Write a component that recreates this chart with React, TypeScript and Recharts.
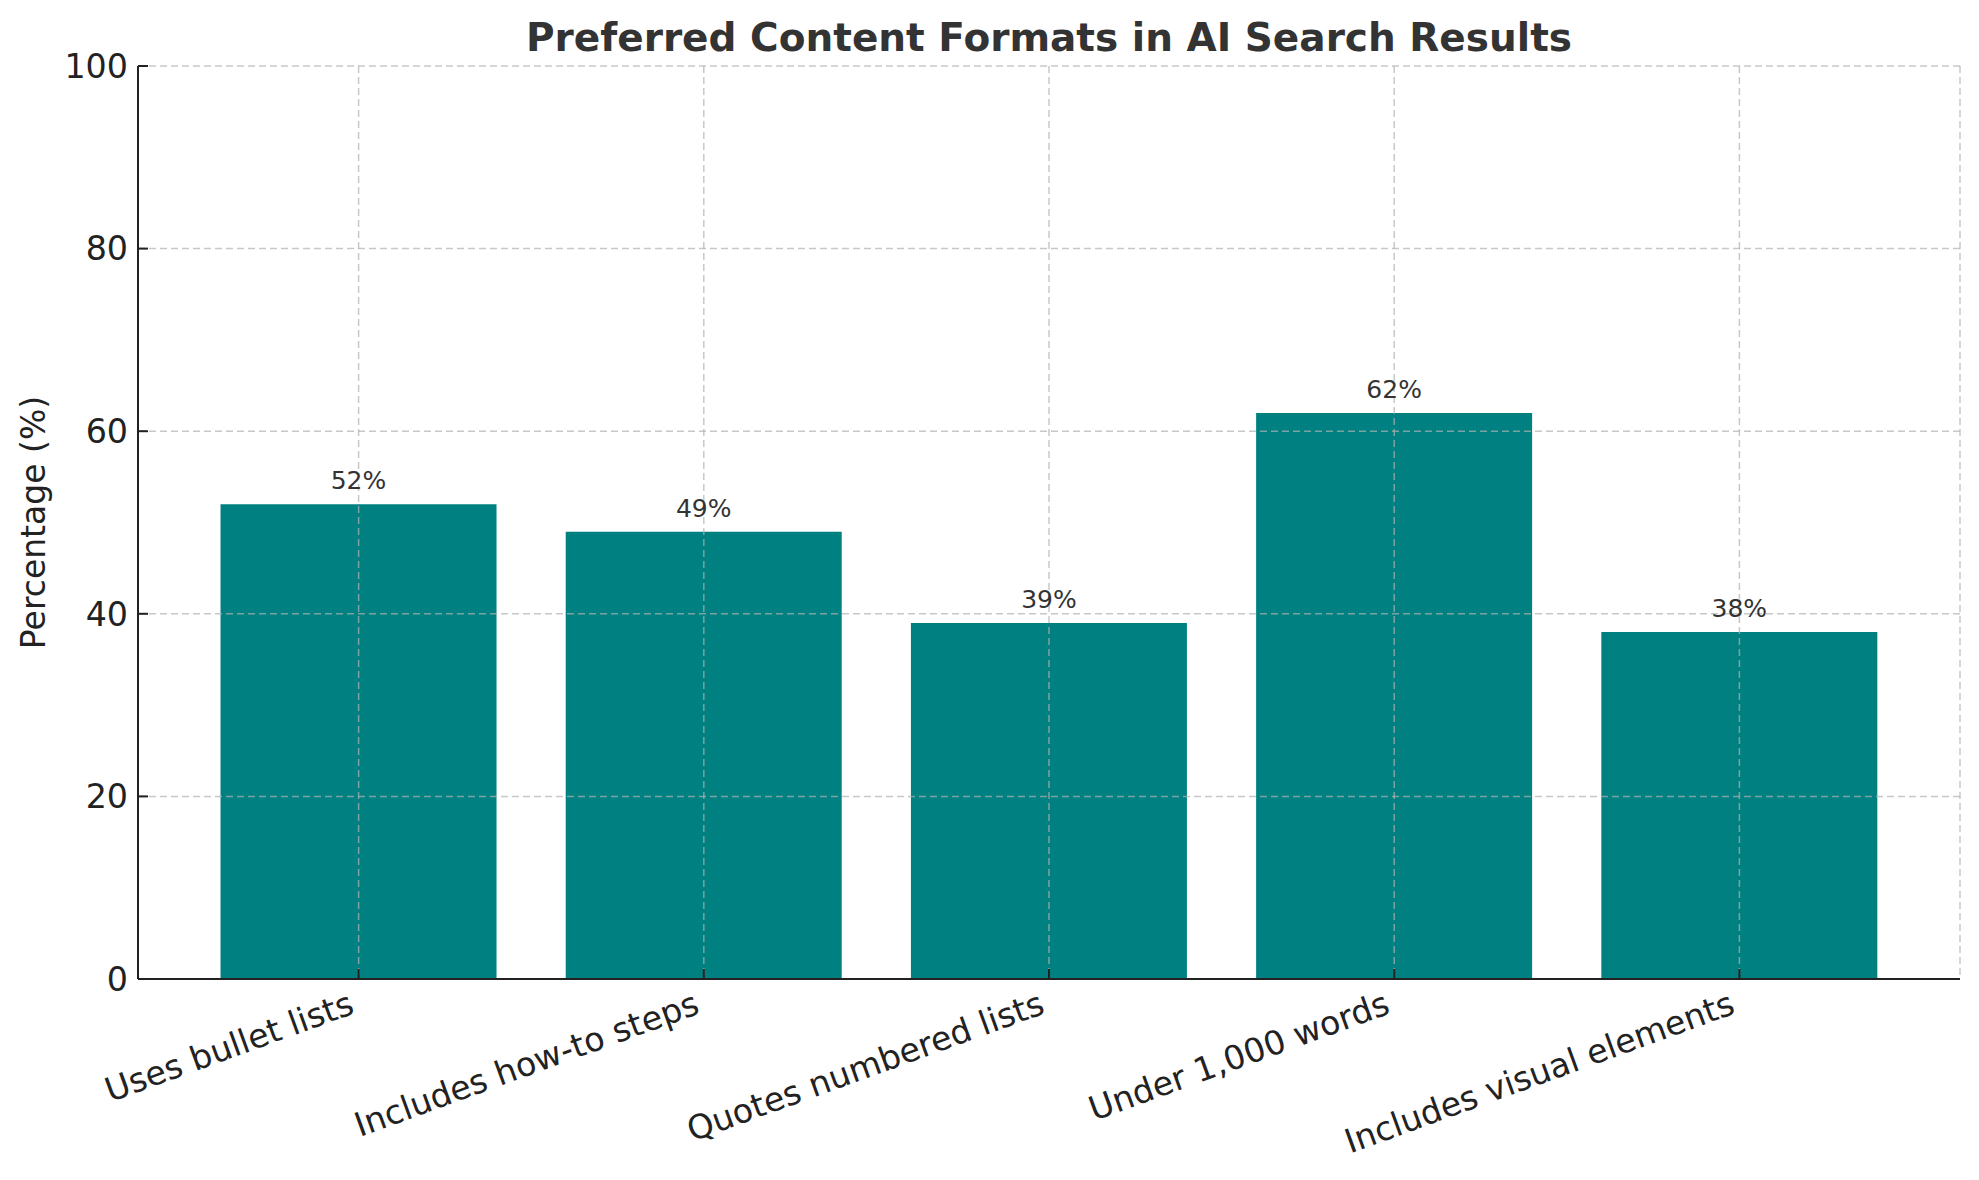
import React from 'react';
import { BarChart, Bar, XAxis, YAxis, CartesianGrid, LabelList, Label } from 'recharts';

const categories = [
  'Uses bullet lists',
  'Includes how-to steps',
  'Quotes numbered lists',
  'Under 1,000 words',
  'Includes visual elements',
];
const percentages = [52, 49, 39, 62, 38];
const yTicks = [0, 20, 40, 60, 80, 100];

const FONT = "'DejaVu Sans', sans-serif";
const TEAL = '#008080';
const TICK_FS = 33.3;

const data = categories.map((name, i) => ({ name, value: percentages[i] }));

// rotated category label, right end hanging under the tick like matplotlib's ha='right'
const XTick = ({ x, y, payload }: any) => {
  const ax = x - 0.342 * 0.24 * TICK_FS;
  const ay = y + 10 + 0.94 * 0.76 * TICK_FS;
  return (
    <text
      x={ax}
      y={ay}
      transform={`rotate(-20, ${ax}, ${ay})`}
      textAnchor="end"
      fontFamily={FONT}
      fontSize={TICK_FS}
      fill="#222"
    >
      {payload.value}
    </text>
  );
};

export default function App() {
  return (
    <div style={{ position: 'absolute', left: 0, top: 0, width: 1979, height: 1180, background: '#fff' }}>
      <div
        style={{
          position: 'absolute',
          left: 138,
          width: 1822,
          top: 18,
          textAlign: 'center',
          fontFamily: FONT,
          fontWeight: 'bold',
          fontSize: 39,
          lineHeight: 1,
          color: '#333',
        }}
      >
        Preferred Content Formats in AI Search Results
      </div>
      <BarChart
        width={1979}
        height={1180}
        data={data}
        margin={{ top: 66, right: 19, left: 0, bottom: 0 }}
        barCategoryGap="10%"
        style={{ position: 'absolute', left: 0, top: 0 }}
      >
        <XAxis
          dataKey="name"
          height={201}
          padding={{ left: 48, right: 48 }}
          axisLine={{ stroke: '#222', strokeWidth: 2 }}
          tickLine={{ stroke: '#222', strokeWidth: 2 }}
          tickSize={-10}
          tickMargin={10}
          interval={0}
          tick={<XTick />}
        />
        <YAxis
          width={138}
          domain={[0, 100]}
          ticks={yTicks}
          interval={0}
          axisLine={{ stroke: '#222', strokeWidth: 2 }}
          tickLine={{ stroke: '#222', strokeWidth: 2 }}
          tickSize={-10}
          tickMargin={20}
          tick={{ fontFamily: FONT, fontSize: TICK_FS, fill: '#222' }}
        >
          <Label
            value="Percentage (%)"
            angle={-90}
            position="insideLeft"
            offset={33}
            style={{ textAnchor: 'middle', fontFamily: FONT, fontSize: 33, fill: '#222' }}
          />
        </YAxis>
        <Bar dataKey="value" fill={TEAL} isAnimationActive={false}>
          <LabelList
            dataKey="value"
            position="top"
            offset={15}
            formatter={(v: any) => `${v}%`}
            style={{ fontFamily: FONT, fontSize: 25, fill: '#333' }}
          />
        </Bar>
        <CartesianGrid
          zIndex={350}
          stroke="#b0b0b0"
          strokeOpacity={0.7}
          strokeWidth={1.5}
          strokeDasharray="7 4"
        />
      </BarChart>
    </div>
  );
}
